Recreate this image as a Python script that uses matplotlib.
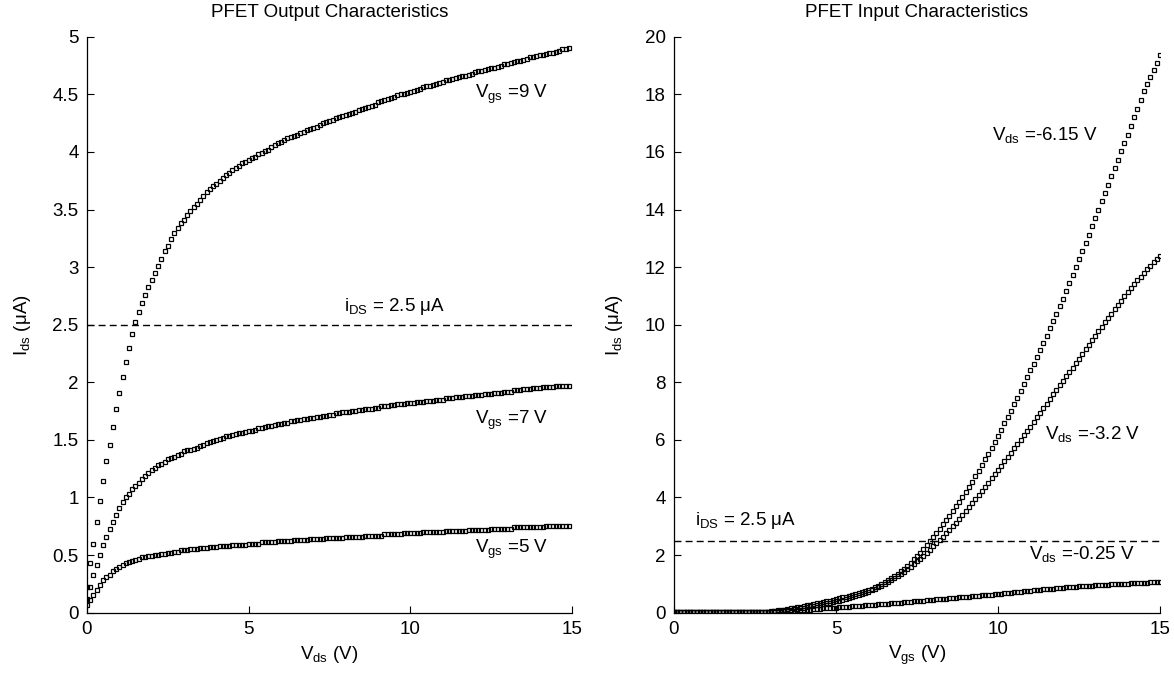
import numpy as np
import matplotlib
matplotlib.use("Agg")
import matplotlib.pyplot as plt

plt.rcParams['font.family'] = ['Liberation Sans', 'DejaVu Sans']
plt.rcParams['mathtext.fontset'] = 'custom'
plt.rcParams['mathtext.rm'] = 'Liberation Sans'
plt.rcParams['mathtext.it'] = 'Liberation Sans'

# ---- output characteristics: Ids (uA) vs Vds, sweep 0..14.9 V step 0.1 ----
vds_sweep = np.round(np.arange(150) * 0.1, 1)

ids_vgs9 = [
    0.22, 0.43, 0.60, 0.79, 0.97, 1.14, 1.32, 1.46, 1.61, 1.77,
    1.91, 2.05, 2.18, 2.30, 2.42, 2.52, 2.61, 2.69, 2.76, 2.83,
    2.89, 2.95, 3.01, 3.07, 3.14, 3.18, 3.24, 3.30, 3.34, 3.38,
    3.41, 3.45, 3.49, 3.52, 3.55, 3.58, 3.62, 3.65, 3.68, 3.70,
    3.72, 3.75, 3.77, 3.80, 3.82, 3.84, 3.86, 3.88, 3.90, 3.91,
    3.93, 3.95, 3.96, 3.98, 3.99, 4.01, 4.02, 4.04, 4.06, 4.08,
    4.09, 4.10, 4.12, 4.13, 4.14, 4.15, 4.16, 4.17, 4.19, 4.20,
    4.21, 4.22, 4.23, 4.25, 4.26, 4.27, 4.28, 4.29, 4.30, 4.31,
    4.32, 4.33, 4.34, 4.35, 4.36, 4.37, 4.38, 4.39, 4.40, 4.41,
    4.43, 4.44, 4.45, 4.46, 4.47, 4.48, 4.49, 4.50, 4.50, 4.51,
    4.52, 4.53, 4.54, 4.55, 4.56, 4.57, 4.57, 4.58, 4.59, 4.60,
    4.61, 4.62, 4.62, 4.63, 4.64, 4.65, 4.66, 4.66, 4.67, 4.68,
    4.69, 4.70, 4.70, 4.71, 4.72, 4.73, 4.73, 4.74, 4.75, 4.76,
    4.76, 4.77, 4.78, 4.79, 4.79, 4.80, 4.81, 4.82, 4.82, 4.83,
    4.84, 4.84, 4.85, 4.86, 4.86, 4.87, 4.88, 4.89, 4.89, 4.90,
]
ids_vgs7 = [
    0.12, 0.22, 0.33, 0.41, 0.50, 0.59, 0.66, 0.73, 0.79, 0.85,
    0.91, 0.96, 1.00, 1.03, 1.07, 1.10, 1.13, 1.16, 1.19, 1.21,
    1.24, 1.26, 1.28, 1.29, 1.31, 1.33, 1.34, 1.35, 1.37, 1.38,
    1.40, 1.41, 1.41, 1.42, 1.43, 1.45, 1.46, 1.47, 1.48, 1.49,
    1.50, 1.51, 1.52, 1.53, 1.53, 1.54, 1.55, 1.56, 1.56, 1.57,
    1.58, 1.58, 1.59, 1.60, 1.60, 1.61, 1.62, 1.62, 1.63, 1.64,
    1.64, 1.65, 1.65, 1.66, 1.66, 1.67, 1.67, 1.68, 1.68, 1.69,
    1.69, 1.70, 1.70, 1.71, 1.71, 1.72, 1.72, 1.73, 1.73, 1.74,
    1.74, 1.74, 1.75, 1.75, 1.76, 1.76, 1.77, 1.77, 1.77, 1.78,
    1.78, 1.79, 1.79, 1.79, 1.80, 1.80, 1.81, 1.81, 1.81, 1.82,
    1.82, 1.82, 1.83, 1.83, 1.83, 1.84, 1.84, 1.84, 1.85, 1.85,
    1.85, 1.86, 1.86, 1.86, 1.87, 1.87, 1.87, 1.88, 1.88, 1.88,
    1.89, 1.89, 1.89, 1.90, 1.90, 1.90, 1.91, 1.91, 1.91, 1.92,
    1.92, 1.92, 1.93, 1.93, 1.93, 1.94, 1.94, 1.94, 1.95, 1.95,
    1.95, 1.96, 1.96, 1.96, 1.96, 1.97, 1.97, 1.97, 1.97, 1.97,
]
ids_vgs5 = [
    0.07, 0.11, 0.15, 0.20, 0.24, 0.28, 0.31, 0.33, 0.36, 0.38,
    0.40, 0.41, 0.43, 0.44, 0.45, 0.46, 0.47, 0.48, 0.48, 0.49,
    0.49, 0.50, 0.50, 0.51, 0.51, 0.52, 0.52, 0.53, 0.53, 0.54,
    0.54, 0.54, 0.55, 0.55, 0.55, 0.56, 0.56, 0.56, 0.57, 0.57,
    0.57, 0.58, 0.58, 0.58, 0.58, 0.59, 0.59, 0.59, 0.59, 0.59,
    0.60, 0.60, 0.60, 0.60, 0.61, 0.61, 0.61, 0.61, 0.61, 0.62,
    0.62, 0.62, 0.62, 0.62, 0.63, 0.63, 0.63, 0.63, 0.63, 0.64,
    0.64, 0.64, 0.64, 0.64, 0.65, 0.65, 0.65, 0.65, 0.65, 0.65,
    0.66, 0.66, 0.66, 0.66, 0.66, 0.66, 0.67, 0.67, 0.67, 0.67,
    0.67, 0.67, 0.68, 0.68, 0.68, 0.68, 0.68, 0.68, 0.69, 0.69,
    0.69, 0.69, 0.69, 0.69, 0.70, 0.70, 0.70, 0.70, 0.70, 0.70,
    0.70, 0.71, 0.71, 0.71, 0.71, 0.71, 0.71, 0.71, 0.72, 0.72,
    0.72, 0.72, 0.72, 0.72, 0.72, 0.73, 0.73, 0.73, 0.73, 0.73,
    0.73, 0.73, 0.74, 0.74, 0.74, 0.74, 0.74, 0.74, 0.74, 0.74,
    0.74, 0.74, 0.75, 0.75, 0.75, 0.75, 0.75, 0.75, 0.75, 0.75,
]

# ---- input characteristics: Ids (uA) vs Vgs, sweep 0..15 V step 0.1 ----
vgs_sweep = np.round(np.arange(151) * 0.1, 1)

ids_vds615 = [
    0.04, 0.04, 0.04, 0.04, 0.04, 0.04, 0.04, 0.04, 0.04, 0.04,
    0.04, 0.04, 0.04, 0.04, 0.04, 0.04, 0.04, 0.04, 0.04, 0.04,
    0.04, 0.04, 0.04, 0.04, 0.04, 0.04, 0.04, 0.04, 0.04, 0.04,
    0.05, 0.06, 0.08, 0.09, 0.11, 0.13, 0.15, 0.17, 0.19, 0.21,
    0.23, 0.25, 0.27, 0.30, 0.32, 0.35, 0.37, 0.40, 0.42, 0.45,
    0.48, 0.50, 0.53, 0.56, 0.59, 0.62, 0.65, 0.68, 0.72, 0.76,
    0.80, 0.84, 0.89, 0.94, 0.99, 1.05, 1.12, 1.19, 1.27, 1.35,
    1.44, 1.53, 1.63, 1.74, 1.85, 1.97, 2.09, 2.22, 2.35, 2.49,
    2.63, 2.77, 2.92, 3.07, 3.22, 3.37, 3.53, 3.69, 3.86, 4.02,
    4.19, 4.37, 4.55, 4.74, 4.93, 5.12, 5.32, 5.52, 5.73, 5.94,
    6.15, 6.36, 6.58, 6.80, 7.02, 7.24, 7.47, 7.70, 7.93, 8.17,
    8.41, 8.65, 8.89, 9.13, 9.37, 9.62, 9.87, 10.12, 10.38, 10.64,
    10.90, 11.17, 11.44, 11.72, 12.00, 12.28, 12.56, 12.84, 13.12, 13.41,
    13.70, 13.99, 14.28, 14.57, 14.86, 15.15, 15.44, 15.73, 16.02, 16.31,
    16.60, 16.90, 17.20, 17.50, 17.80, 18.10, 18.35, 18.60, 18.85, 19.10,
    19.35,
]
ids_vds32 = [
    0.03, 0.03, 0.03, 0.03, 0.03, 0.03, 0.03, 0.03, 0.03, 0.03,
    0.03, 0.03, 0.03, 0.03, 0.03, 0.03, 0.03, 0.03, 0.03, 0.03,
    0.03, 0.03, 0.03, 0.03, 0.03, 0.03, 0.03, 0.03, 0.03, 0.03,
    0.04, 0.05, 0.06, 0.07, 0.08, 0.10, 0.11, 0.13, 0.14, 0.16,
    0.18, 0.20, 0.22, 0.24, 0.26, 0.28, 0.30, 0.32, 0.35, 0.37,
    0.40, 0.42, 0.45, 0.48, 0.51, 0.54, 0.57, 0.61, 0.65, 0.69,
    0.73, 0.78, 0.83, 0.88, 0.94, 1.00, 1.06, 1.13, 1.20, 1.27,
    1.35, 1.43, 1.51, 1.60, 1.69, 1.78, 1.88, 1.98, 2.08, 2.19,
    2.30, 2.41, 2.52, 2.64, 2.76, 2.88, 3.00, 3.13, 3.26, 3.39,
    3.52, 3.66, 3.80, 3.94, 4.08, 4.22, 4.36, 4.51, 4.66, 4.81,
    4.96, 5.11, 5.26, 5.41, 5.56, 5.71, 5.86, 6.01, 6.16, 6.31,
    6.46, 6.62, 6.78, 6.94, 7.10, 7.26, 7.42, 7.58, 7.74, 7.90,
    8.06, 8.21, 8.36, 8.51, 8.66, 8.82, 8.98, 9.14, 9.30, 9.46,
    9.62, 9.78, 9.93, 10.08, 10.23, 10.38, 10.53, 10.68, 10.83, 10.98,
    11.13, 11.27, 11.41, 11.54, 11.67, 11.80, 11.92, 12.04, 12.16, 12.27,
    12.38,
]
ids_vds025 = [
    0.02, 0.02, 0.02, 0.02, 0.02, 0.02, 0.02, 0.02, 0.02, 0.02,
    0.02, 0.02, 0.02, 0.02, 0.02, 0.02, 0.02, 0.02, 0.02, 0.02,
    0.02, 0.02, 0.02, 0.02, 0.02, 0.02, 0.02, 0.02, 0.02, 0.02,
    0.03, 0.03, 0.04, 0.04, 0.05, 0.06, 0.06, 0.07, 0.08, 0.09,
    0.10, 0.10, 0.11, 0.12, 0.13, 0.14, 0.15, 0.15, 0.16, 0.17,
    0.18, 0.19, 0.20, 0.20, 0.21, 0.22, 0.23, 0.24, 0.24, 0.25,
    0.26, 0.27, 0.28, 0.29, 0.29, 0.30, 0.31, 0.32, 0.33, 0.34,
    0.35, 0.36, 0.37, 0.38, 0.39, 0.40, 0.41, 0.42, 0.43, 0.44,
    0.45, 0.46, 0.47, 0.48, 0.49, 0.50, 0.51, 0.52, 0.53, 0.54,
    0.55, 0.56, 0.57, 0.58, 0.59, 0.60, 0.61, 0.62, 0.63, 0.64,
    0.65, 0.66, 0.67, 0.68, 0.70, 0.71, 0.72, 0.73, 0.74, 0.75,
    0.77, 0.78, 0.79, 0.80, 0.81, 0.82, 0.83, 0.84, 0.85, 0.86,
    0.87, 0.88, 0.89, 0.89, 0.90, 0.91, 0.92, 0.93, 0.93, 0.94,
    0.95, 0.95, 0.96, 0.97, 0.97, 0.98, 0.99, 0.99, 1.00, 1.00,
    1.01, 1.02, 1.02, 1.03, 1.03, 1.04, 1.04, 1.05, 1.05, 1.06,
    1.06,
]

i_ref = 2.5  # reference current, uA

FS = 13.5
mk = dict(ls='none', marker='s', ms=3.4, mfc='none', mec='black', mew=0.9)


def style_axes(ax):
    ax.spines['top'].set_visible(False)
    ax.spines['right'].set_visible(False)
    ax.tick_params(direction='in', length=5, width=0.8, labelsize=FS, pad=6)
    for s in ['left', 'bottom']:
        ax.spines[s].set_linewidth(0.9)


fig = plt.figure(figsize=(11.74, 6.81), dpi=100)

# left: output characteristics
ax1 = fig.add_axes([0.0741, 0.1003, 0.4131, 0.8458])
ax1.plot(vds_sweep, ids_vgs9, **mk)
ax1.plot(vds_sweep, ids_vgs7, **mk)
ax1.plot(vds_sweep, ids_vgs5, **mk)
ax1.axhline(i_ref, color='black', lw=1.0, ls=(0, (5, 3)))
ax1.set_xlim(0, 15)
ax1.set_ylim(0, 5)
ax1.set_xticks([0, 5, 10, 15])
ax1.set_yticks(np.arange(0, 5.01, 0.5))
ax1.set_yticklabels(['0', '0.5', '1', '1.5', '2', '2.5', '3', '3.5', '4', '4.5', '5'])
ax1.set_title('PFET Output Characteristics', fontsize=FS, pad=14)
ax1.set_xlabel(r'$\mathregular{V_{ds}}$ (V)', fontsize=FS)
ax1.set_ylabel(r'$\mathregular{I_{ds}}$ ($\mathregular{\mu}$A)', fontsize=FS, labelpad=14)
ax1.text(12.0, 4.5, r'$\mathregular{V_{gs}}$ =9 V', fontsize=FS, va='center')
ax1.text(12.0, 1.67, r'$\mathregular{V_{gs}}$ =7 V', fontsize=FS, va='center')
ax1.text(12.0, 0.55, r'$\mathregular{V_{gs}}$ =5 V', fontsize=FS, va='center')
ax1.text(7.95, 2.66, r'$\mathregular{i_{DS}}$ = 2.5 μA', fontsize=FS, va='center')
style_axes(ax1)

# right: input characteristics
ax2 = fig.add_axes([0.5741, 0.1003, 0.4140, 0.8458])
ax2.plot(vgs_sweep, ids_vds615, **mk)
ax2.plot(vgs_sweep, ids_vds32, **mk)
ax2.plot(vgs_sweep, ids_vds025, **mk)
ax2.axhline(i_ref, color='black', lw=1.0, ls=(0, (5, 3)))
ax2.set_xlim(0, 15)
ax2.set_ylim(0, 20)
ax2.set_xticks([0, 5, 10, 15])
ax2.set_yticks(np.arange(0, 21, 2))
ax2.set_title('PFET Input Characteristics', fontsize=FS, pad=14)
ax2.set_xlabel(r'$\mathregular{V_{gs}}$ (V)', fontsize=FS)
ax2.set_ylabel(r'$\mathregular{I_{ds}}$ ($\mathregular{\mu}$A)', fontsize=FS, labelpad=14)
ax2.text(9.8, 16.6, r'$\mathregular{V_{ds}}$ =-6.15 V', fontsize=FS, va='center')
ax2.text(11.45, 6.2, r'$\mathregular{V_{ds}}$ =-3.2 V', fontsize=FS, va='center')
ax2.text(10.95, 2.05, r'$\mathregular{V_{ds}}$ =-0.25 V', fontsize=FS, va='center')
ax2.text(0.65, 3.2, r'$\mathregular{i_{DS}}$ = 2.5 μA', fontsize=FS, va='center')
style_axes(ax2)

fig.savefig('out.png', dpi=100)
